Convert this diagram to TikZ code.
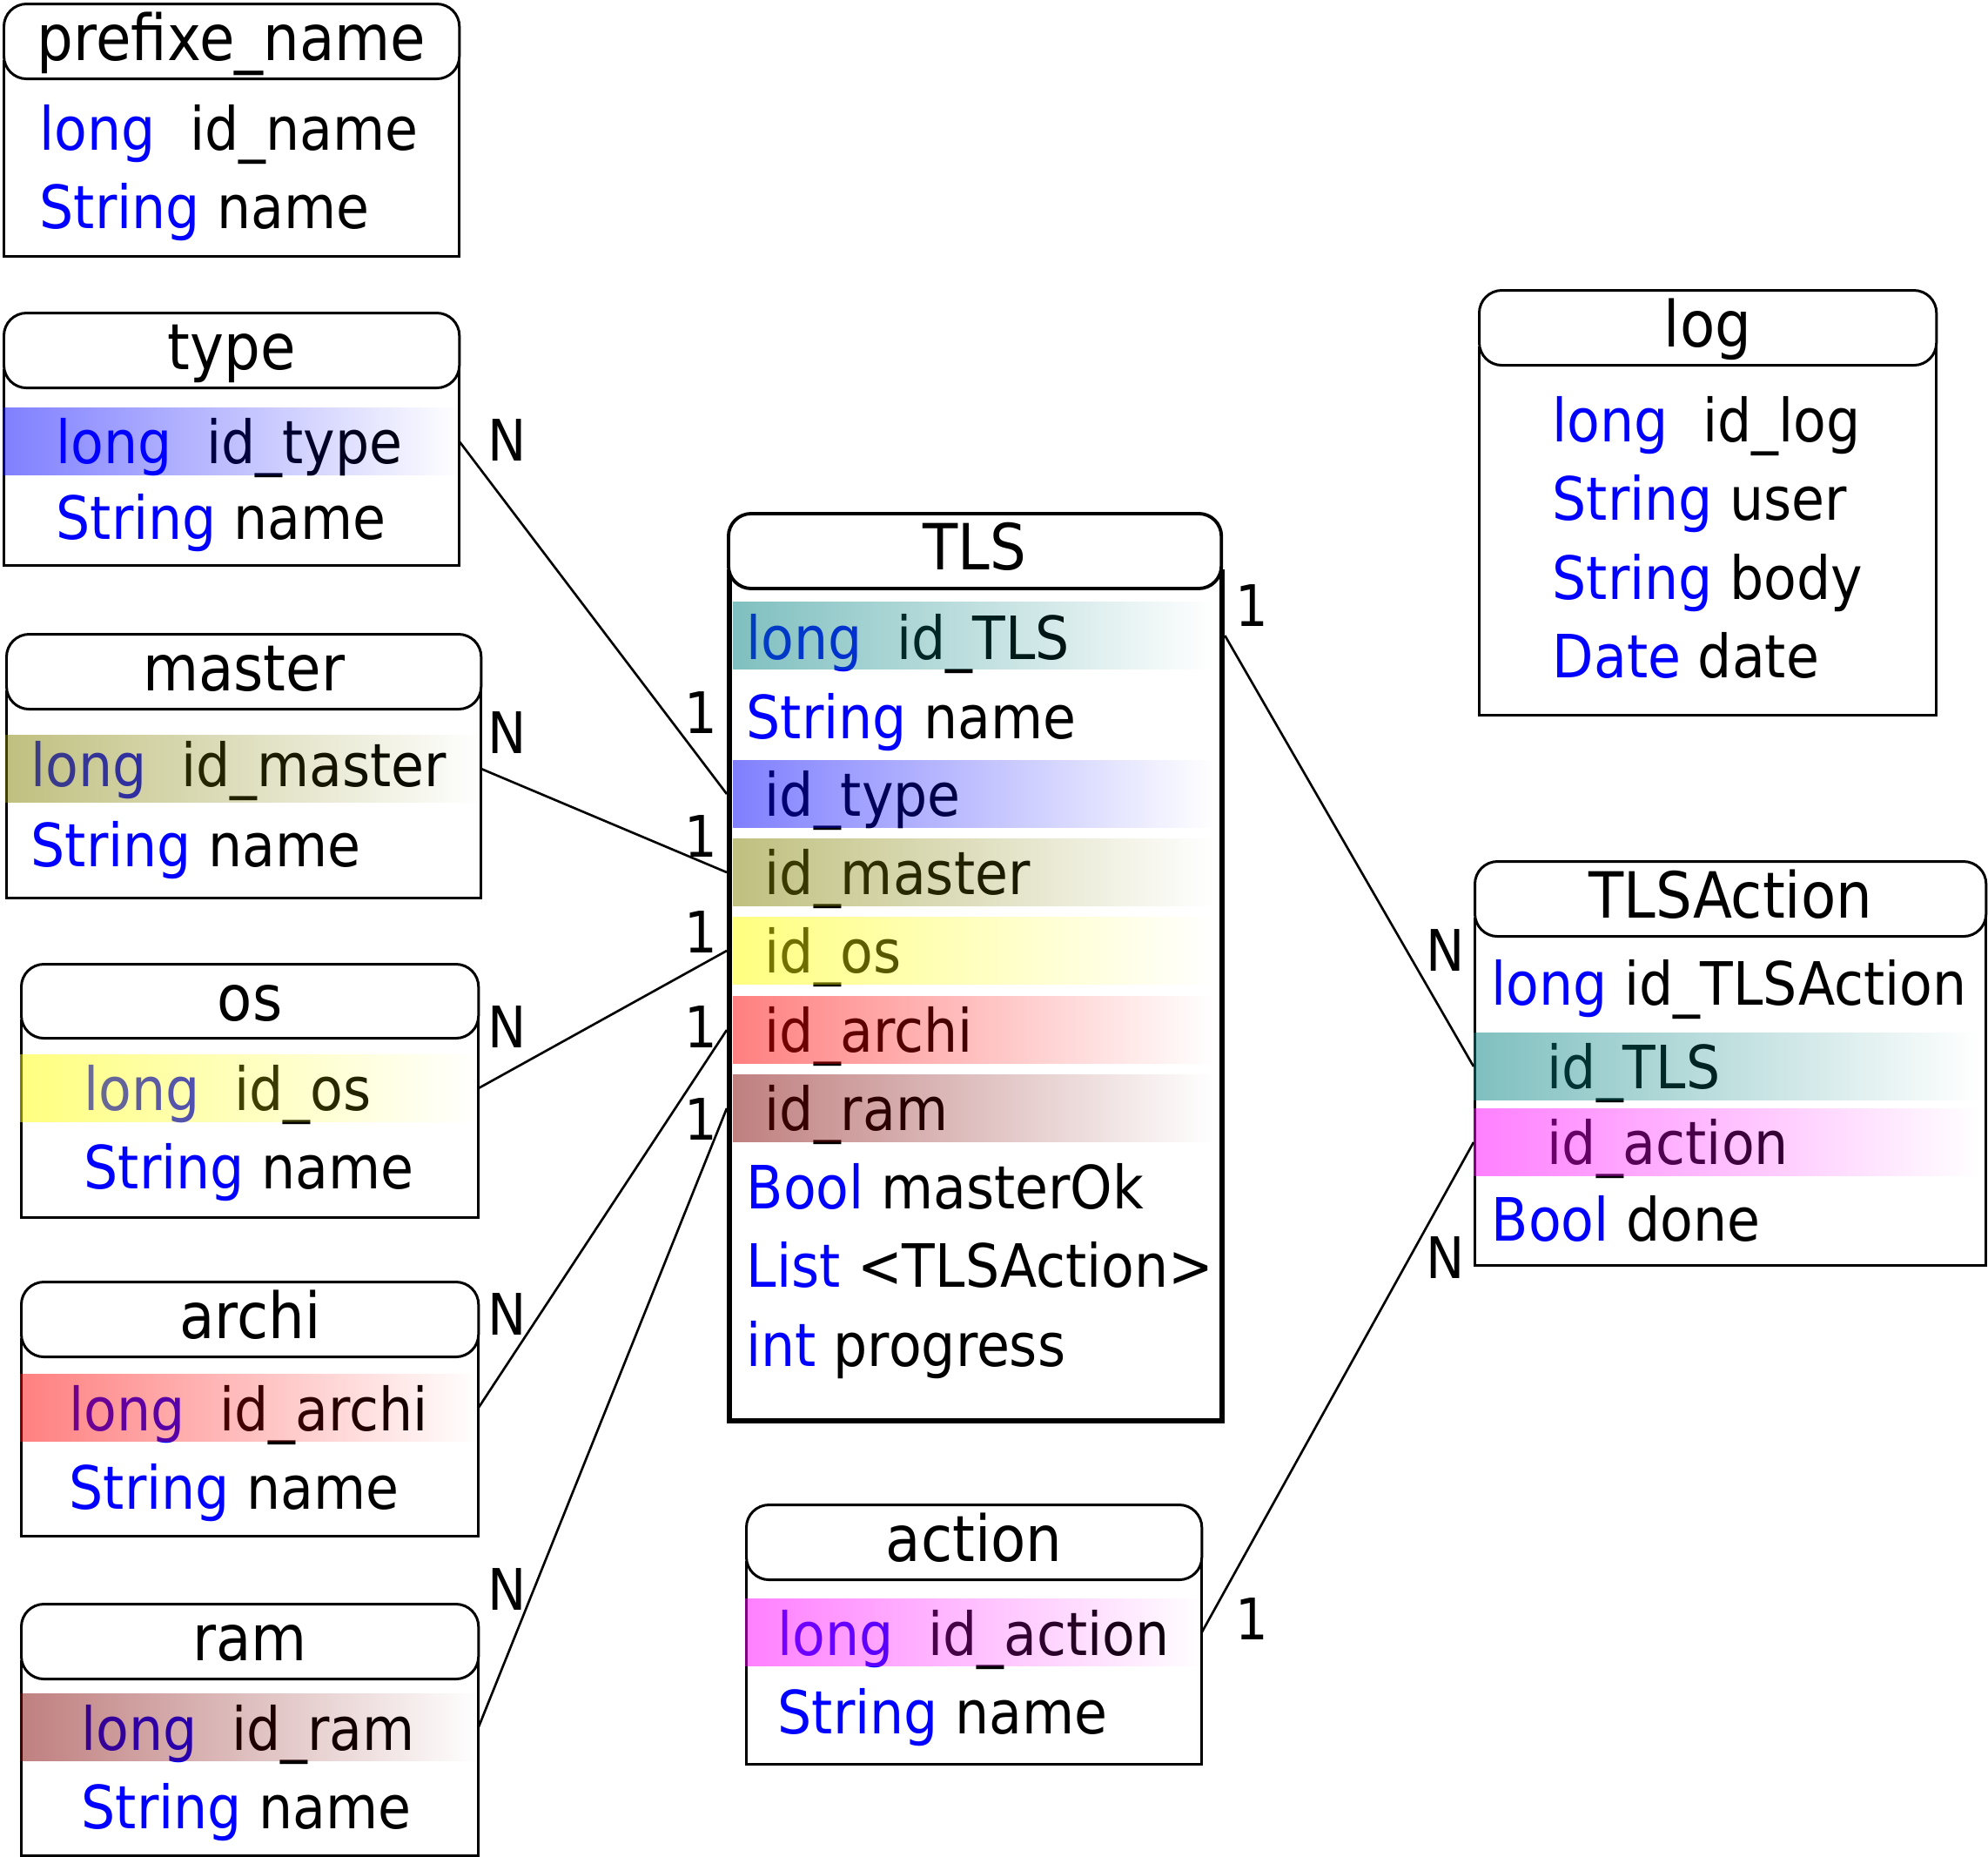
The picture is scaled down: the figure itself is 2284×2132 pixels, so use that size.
\documentclass[tikz,border=0pt]{standalone}
\usepackage{fontspec}
\setmainfont{DejaVu Sans}[FakeStretch=0.9]
\usepackage{tikz}
\usetikzlibrary{fadings}
\definecolor{kwblue}{HTML}{0000FF}
\definecolor{typec}{HTML}{0000FF}
\definecolor{masterc}{HTML}{818101}
\definecolor{osc}{HTML}{FFFF00}
\definecolor{archic}{HTML}{FF0000}
\definecolor{ramc}{HTML}{810101}
\definecolor{tlsc}{HTML}{018181}
\definecolor{actionc}{HTML}{FF00FF}
\tikzfading[name=fadeout,left color=transparent!0,right color=transparent!100]
\newcommand{\kw}[1]{\textcolor{kwblue}{#1}}

\begin{document}
\begin{tikzpicture}[
  x=0.01cm,y=-0.01cm,
  tbl/.style={draw,line width=0.85pt,fill=white,inner sep=0pt,anchor=north west},
  hdr/.style={tbl,rounded corners=0.26cm,minimum height=0.86cm,font=\fontsize{20.8pt}{25pt}\selectfont,text height=15pt,text depth=2.5pt},
  field/.style={anchor=base west,inner sep=0pt,font=\fontsize{19.5pt}{23pt}\selectfont},
  band/.style={anchor=west,inner sep=0pt,minimum height=0.76cm},
  card/.style={inner sep=0pt,font=\fontsize{18.7pt}{22pt}\selectfont},
  link/.style={line width=0.75pt}
]
  \path[use as bounding box,fill=white] (0,0) rectangle (2284,2132);

  % tables
  \node[tbl,minimum width=5.23cm,minimum height=2.24cm] (pn) at (3,69) {};
  \node[hdr,minimum width=5.23cm] (pn-hd) at (3,3) {prefixe\_name};
  \node[field] (pn-id) at (45,172) {\kw{long}~~id\_name};
  \node[field] (pn-name) at (45,262) {\kw{String} name};

  \node[tbl,minimum width=5.23cm,minimum height=2.24cm] (type) at (3,424) {};
  \node[hdr,minimum width=5.23cm] (type-hd) at (3,358) {type};
  \node[field] (type-f1) at (64,532) {\kw{long}~~id\_type};
  \node[field] (type-f2) at (64,619) {\kw{String} name};
  \node[band,minimum width=5.23cm] (type-id) at (3,507) {};

  \node[tbl,minimum width=5.45cm,minimum height=2.37cm] (master) at (6,793) {};
  \node[hdr,minimum width=5.45cm] (master-hd) at (6,727) {master};
  \node[field] (master-f1) at (35,903) {\kw{long}~~id\_master};
  \node[field] (master-f2) at (35,995) {\kw{String} name};
  \node[band,minimum width=5.45cm] (master-id) at (6,883) {};

  \node[tbl,minimum width=5.25cm,minimum height=2.26cm] (os) at (23,1171) {};
  \node[hdr,minimum width=5.25cm,minimum height=0.85cm] (os-hd) at (23,1106) {os};
  \node[field] (os-f1) at (96,1275) {\kw{long}~~id\_os};
  \node[field] (os-f2) at (96,1365) {\kw{String} name};
  \node[band,minimum width=5.25cm] (os-id) at (23,1250) {};

  \node[tbl,minimum width=5.25cm,minimum height=2.26cm] (archi) at (23,1537) {};
  \node[hdr,minimum width=5.25cm] (archi-hd) at (23,1471) {archi};
  \node[field] (archi-f1) at (79,1643) {\kw{long}~~id\_archi};
  \node[field] (archi-f2) at (79,1733) {\kw{String} name};
  \node[band,minimum width=5.25cm] (archi-id) at (23,1617) {};

  \node[tbl,minimum width=5.25cm,minimum height=2.23cm] (ram) at (23,1907) {};
  \node[hdr,minimum width=5.25cm] (ram-hd) at (23,1841) {ram};
  \node[field] (ram-f1) at (93,2010) {\kw{long}~~id\_ram};
  \node[field] (ram-f2) at (93,2100) {\kw{String} name};
  \node[band,minimum width=5.25cm] (ram-id) at (23,1984) {};

  \node[tbl,line width=1.7pt,minimum width=5.66cm,minimum height=9.74cm] (tls) at (835,654) {};
  \node[hdr,line width=1.1pt,minimum width=5.66cm] (tls-hd) at (835,588) {TLS};
  \node[field] (tls-f1) at (857,757) {\kw{long}~~id\_TLS};
  \node[field] (tls-f2) at (857,848) {\kw{String} name};
  \node[field] (tls-f3) at (878,937) {id\_type};
  \node[field] (tls-f4) at (878,1027) {id\_master};
  \node[field] (tls-f5) at (878,1117) {id\_os};
  \node[field] (tls-f6) at (878,1208) {id\_archi};
  \node[field] (tls-f7) at (878,1298) {id\_ram};
  \node[field] (tls-f8) at (857,1388) {\kw{Bool} masterOk};
  \node[field] (tls-f9) at (857,1478) {\kw{List} <TLSAction>};
  \node[field] (tls-f10) at (857,1569) {\kw{int} progress};
  \node[band,minimum width=5.49cm] (tls-id) at (842,730) {};
  \node[band,minimum width=5.49cm] (tls-type) at (842,912) {};
  \node[band,minimum width=5.49cm] (tls-master) at (842,1002) {};
  \node[band,minimum width=5.49cm] (tls-os) at (842,1092) {};
  \node[band,minimum width=5.49cm] (tls-archi) at (842,1183) {};
  \node[band,minimum width=5.49cm] (tls-ram) at (842,1273) {};

  \node[tbl,minimum width=5.25cm,minimum height=4.22cm] (log) at (1698,398) {};
  \node[hdr,minimum width=5.25cm] (log-hd) at (1698,332) {log};
  \node[field] (log-f1) at (1783,507) {\kw{long}~~id\_log};
  \node[field] (log-f2) at (1783,597) {\kw{String} user};
  \node[field] (log-f3) at (1783,688) {\kw{String} body};
  \node[field] (log-f4) at (1783,778) {\kw{Date} date};

  \node[tbl,minimum width=5.87cm,minimum height=3.98cm] (tlsa) at (1693,1054) {};
  \node[hdr,minimum width=5.87cm] (tlsa-hd) at (1693,988) {TLSAction};
  \node[field] (tlsa-f1) at (1713,1154) {\kw{long} id\_TLSAction};
  \node[field] (tlsa-f2) at (1777,1250) {id\_TLS};
  \node[field] (tlsa-f3) at (1777,1337) {id\_action};
  \node[field] (tlsa-f4) at (1713,1425) {\kw{Bool} done};
  \node[band,minimum width=5.77cm] (tlsa-tls) at (1693,1225) {};
  \node[band,minimum width=5.77cm] (tlsa-action) at (1693,1312) {};

  \node[tbl,minimum width=5.23cm,minimum height=2.32cm] (action) at (856,1793) {};
  \node[hdr,minimum width=5.23cm] (action-hd) at (856,1727) {action};
  \node[field] (action-f1) at (893,1901) {\kw{long}~~id\_action};
  \node[field] (action-f2) at (893,1991) {\kw{String} name};
  \node[band,minimum width=5.23cm] (action-id) at (856,1875) {};

  % key highlights
  \foreach \b/\c in {type-id/typec,master-id/masterc,os-id/osc,archi-id/archic,ram-id/ramc,
      tls-id/tlsc,tls-type/typec,tls-master/masterc,tls-os/osc,tls-archi/archic,tls-ram/ramc,
      tlsa-tls/tlsc,tlsa-action/actionc,action-id/actionc}
    \fill[\c,fill opacity=0.5,path fading=fadeout] (\b.south west) rectangle (\b.north east);

  % relations
  \draw[link] (type-id.east) -- (tls.west |- tls-type);
  \draw[link] (master-id.east) -- (tls.west |- tls-master);
  \draw[link] (os-id.east) -- (tls.west |- tls-os);
  \draw[link] (archi-id.east) -- (tls.west |- tls-archi);
  \draw[link] (ram-id.east) -- (tls.west |- tls-ram);
  \draw[link] (tls.east |- tls-id) -- (tlsa-tls.west);
  \draw[link] (action-id.east) -- (tlsa-action.west);

  \node[card] (n-type) at (583,506) {N};
  \node[card] (n-master) at (583,842) {N};
  \node[card] (n-os) at (583,1180) {N};
  \node[card] (n-archi) at (583,1510) {N};
  \node[card] (n-ram) at (583,1825) {N};
  \node[card] (o-type) at (805,819) {1};
  \node[card] (o-master) at (805,961) {1};
  \node[card] (o-os) at (805,1071) {1};
  \node[card] (o-archi) at (805,1180) {1};
  \node[card] (o-ram) at (805,1286) {1};
  \node[card] (o-tls) at (1438,696) {1};
  \node[card] (n-tls) at (1661,1092) {N};
  \node[card] (o-action) at (1438,1859) {1};
  \node[card] (n-action) at (1661,1445) {N};
\end{tikzpicture}
\end{document}
